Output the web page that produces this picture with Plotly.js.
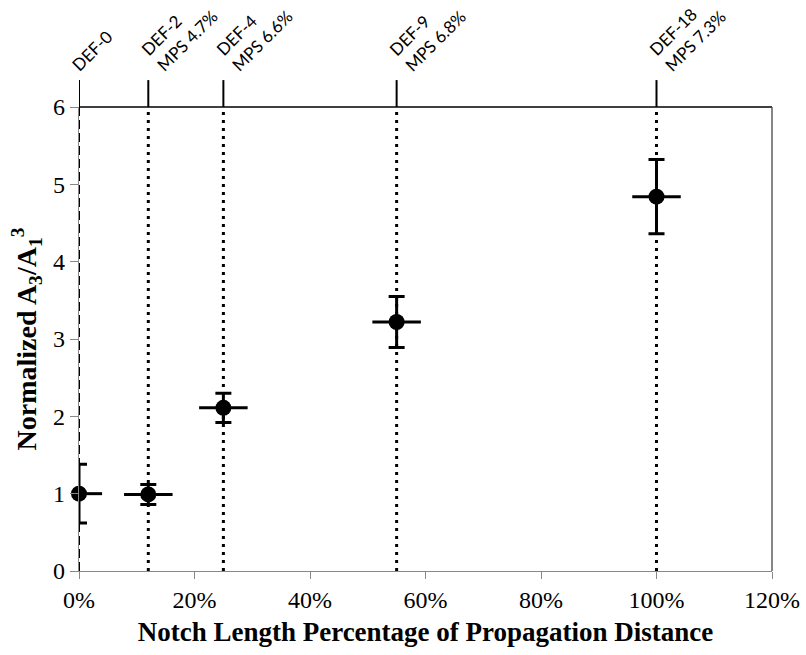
<!DOCTYPE html>
<html><head><meta charset="utf-8">
<script src="https://cdn.plot.ly/plotly-3.0.1.min.js"></script>
<style>html,body{margin:0;padding:0;background:#fff}#chart{width:806px;height:655px}</style>
</head><body><div id="chart"></div>
<script>
// Data
const notchPct = [0, 12, 25, 55, 100];
const normA = [1.0, 0.99, 2.11, 3.22, 4.84];
const yErr = [0.38, 0.13, 0.19, 0.33, 0.48];
const xErrPlus = [4.0, 4.2, 4.2, 4.2, 4.2];
const xErrMinus = [0, 4.2, 4.2, 4.2, 4.2];
const sampleLabels = ['DEF-0', 'DEF-2<br>MPS 4.7%', 'DEF-4<br>MPS 6.6%', 'DEF-9<br>MPS 6.8%', 'DEF-18<br>MPS 7.3%'];
const xTicks = [0, 20, 40, 60, 80, 100, 120];
const yTicks = [0, 1, 2, 3, 4, 5, 6];

const trace = {
  x: notchPct, y: normA, type: 'scatter', mode: 'markers',
  marker: {color: '#000', size: 16, symbol: 'circle'},
  error_y: {type: 'data', array: yErr, visible: true, color: '#000', thickness: 3, width: 8},
  error_x: {type: 'data', symmetric: false, array: xErrPlus, arrayminus: xErrMinus, visible: true, color: '#000', thickness: 3, width: 0},
  cliponaxis: false, showlegend: false, hoverinfo: 'skip'
};

const shapes = [];
notchPct.forEach((v, i) => {
  shapes.push({type: 'line', xref: 'x', yref: 'paper', x0: v, x1: v, y0: 0, y1: 1,
    line: {color: '#000', width: i === 0 ? 2 : 3, dash: i === 0 ? '9px,4px' : '3px,5px'}, layer: 'below'});
  shapes.push({type: 'line', xref: 'x', yref: 'paper', x0: v, x1: v, y0: 1, y1: 1.058,
    line: {color: '#000', width: 2}});
});
// top and right frame
shapes.push({type: 'line', xref: 'paper', yref: 'paper', x0: 0, x1: 1, y0: 1, y1: 1, line: {color: '#000', width: 1.3}});
shapes.push({type: 'line', xref: 'paper', yref: 'paper', x0: 1, x1: 1, y0: 0, y1: 1, line: {color: '#444', width: 1.3}});

const annotations = notchPct.map((v, i) => ({
  x: v, xref: 'x', y: 1, yref: 'paper', text: sampleLabels[i], showarrow: false,
  textangle: -45, xanchor: 'left', yanchor: 'bottom', xshift: -14, yshift: 29,
  align: 'left', font: {family: 'Lato, "Open Sans", sans-serif', size: 17, color: '#000'}
}));

const layout = {
  width: 806, height: 655,
  margin: {l: 79, r: 34, t: 107, b: 84},
  paper_bgcolor: '#fff', plot_bgcolor: '#fff',
  font: {family: '"Liberation Serif", "Times New Roman", serif', color: '#000'},
  xaxis: {
    range: [0, 120], tickvals: xTicks, ticktext: xTicks.map(t => t + '%'),
    showgrid: false, zeroline: false, showline: true, linecolor: '#888', linewidth: 1.3,
    ticks: 'outside', ticklen: 7, tickcolor: '#888', tickfont: {size: 24},
    title: {text: '<b>Notch Length Percentage of Propagation Distance</b>', font: {size: 27}, standoff: 10}
  },
  yaxis: {
    range: [0, 6], tickvals: yTicks, showgrid: false, zeroline: false,
    showline: true, linecolor: '#888', linewidth: 1.3,
    ticks: 'outside', ticklen: 8, tickcolor: '#888', tickfont: {size: 24},
    title: {text: '<b>Normalized A<sub>3</sub>/A<sub>1</sub><sup>3</sup></b>', font: {size: 28}, standoff: 8}
  },
  shapes: shapes, annotations: annotations
};

Plotly.newPlot('chart', [trace], layout, {displayModeBar: false, staticPlot: true});
</script></body></html>
